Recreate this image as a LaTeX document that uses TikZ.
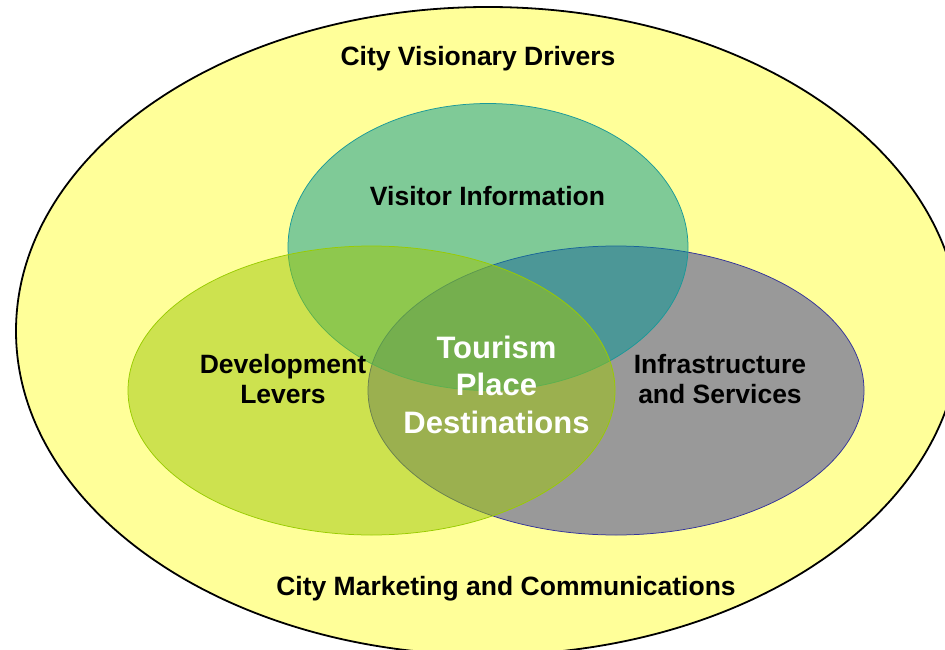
\documentclass[tikz,border=0pt]{standalone}
\usepackage{fontspec}
\setmainfont{Liberation Sans}
\usetikzlibrary{shapes.geometric}
\definecolor{outerfill}{HTML}{FFFF99}
\definecolor{grayfill}{HTML}{999999}
\definecolor{grayedge}{HTML}{333399}
\definecolor{tealfill}{RGB}{0,151,151}
\definecolor{tealedge}{HTML}{1A9999}
\definecolor{ygfill}{RGB}{157,200,8}
\definecolor{ygedge}{RGB}{153,204,0}
\begin{document}
\begin{tikzpicture}[x=1pt,y=-1pt,
  oval/.style={ellipse, inner sep=0pt, outer sep=0pt},
  lbl/.style={font=\fontsize{26.5}{30}\selectfont\bfseries, text=black, inner sep=0pt, align=center},
  biglbl/.style={font=\fontsize{31}{37.5}\selectfont\bfseries, text=white, inner sep=0pt, align=center}]
\useasboundingbox (0,0) rectangle (945,650);
\begin{scope}
\clip (0,0) rectangle (945,650);
\node[oval, draw=black, line width=1.8pt, fill=outerfill, minimum width=944pt, minimum height=648pt] (outer) at (488,331) {};
\end{scope}
\node[oval, draw=grayedge, line width=0.75pt, fill=grayfill, minimum width=496pt, minimum height=289pt] (infra) at (616,390.5) {};
\node[oval, draw=tealedge, line width=0.75pt, fill=tealfill, fill opacity=0.5, minimum width=400pt, minimum height=287pt] (visitor) at (488,247) {};
\node[oval, draw=ygedge, line width=0.75pt, fill=ygfill, fill opacity=0.51, minimum width=487pt, minimum height=289pt] (dev) at (371.5,390.5) {};
\node[lbl, anchor=base] (tdrivers) at (478,66) {City Visionary Drivers};
\node[lbl, anchor=base] (tvisitor) at (487.5,205) {Visitor Information};
\node[lbl, anchor=north] (tdev) at (283,353.7) {Development\\Levers};
\node[lbl, anchor=north] (tinfra) at (720,353.7) {Infrastructure\\and Services};
\node[biglbl, anchor=north] (tcore) at (496.5,335.5) {Tourism\\Place\\Destinations};
\node[lbl, anchor=base] (tmarket) at (506,595) {City Marketing and Communications};
\end{tikzpicture}
\end{document}
